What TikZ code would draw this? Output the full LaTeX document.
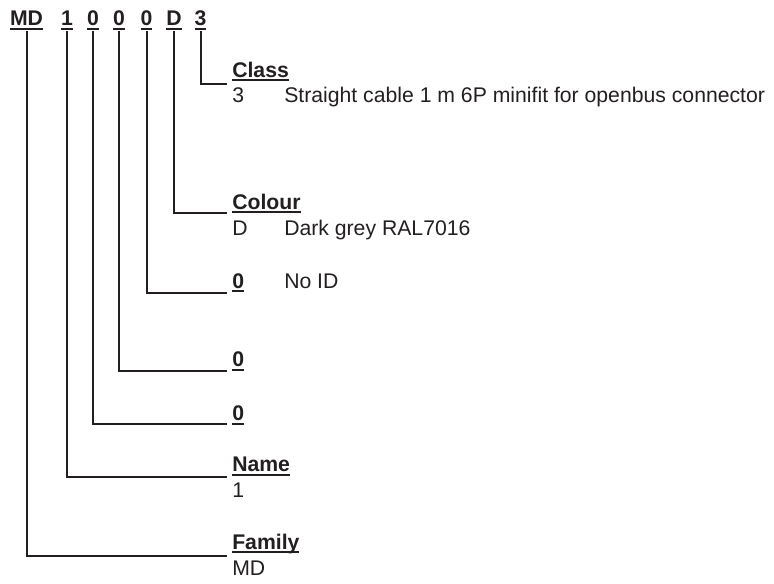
\documentclass[tikz,border=0pt]{standalone}
\usepackage{fontspec}
\setmainfont{Liberation Sans}

\definecolor{ink}{HTML}{231F20}
\newcommand{\fsz}{\fontsize{15.9}{19}\selectfont}
% bold text with a fixed underline
\newcommand{\ulb}[1]{\setbox0\hbox{#1}\rlap{\rule[-3.1pt]{\wd0}{1.7pt}}\box0}

\tikzset{
    code/.style={font=\fsz\bfseries, text=ink, anchor=base, inner sep=1pt},
    title/.style={font=\fsz\bfseries, text=ink, anchor=base west, inner sep=0pt},
    desc/.style={font=\fsz, text=ink, anchor=base west, inner sep=0pt},
    leader/.style={draw=ink, line width=1.5pt}
}

\begin{document}
\begin{tikzpicture}[x=0.75pt,y=-0.75pt]
    \useasboundingbox (0,0) rectangle (774,583);

    % Order code
    \node[code] (cMD)    at (26.5,25.7) {\ulb{MD}};
    \node[code] (cOne)   at (67,25.7)   {\ulb{1}};
    \node[code] (cZa)    at (93,25.7)   {\ulb{0}};
    \node[code] (cZb)    at (119,25.7)  {\ulb{0}};
    \node[code] (cZc)    at (146.5,25.7){\ulb{0}};
    \node[code] (cD)     at (174,25.7)  {\ulb{D}};
    \node[code] (cThree) at (200.5,25.7){\ulb{3}};

    % Line ends
    \coordinate (eClass)  at (227,84);
    \coordinate (eColour) at (227,213.3);
    \coordinate (eId)     at (227,293.3);
    \coordinate (eZb)     at (227,371);
    \coordinate (eZa)     at (227,424.3);
    \coordinate (eName)   at (227,476.7);
    \coordinate (eFamily) at (227,555.7);

    % Class
    \node[title] (tClass) at (232,77.3) {\ulb{Class}};
    \node[desc] (vClass) at (232,102.5) {3};
    \node[desc] (dClass) at (284,102.5) {Straight cable 1 m 6P minifit for openbus connector};

    % Colour
    \node[title] (tColour) at (232,209.3) {\ulb{Colour}};
    \node[desc] (vColour) at (232,235.5) {D};
    \node[desc] (dColour) at (284,235.5) {Dark grey RAL7016};

    % ID
    \node[title] (tId) at (232,288.3) {\ulb{0}};
    \node[desc] (dId) at (284,288.3) {No ID};

    % Zeros
    \node[title] (tZb) at (232,366.7) {\ulb{0}};
    \node[title] (tZa) at (232,420.7) {\ulb{0}};

    % Name
    \node[title] (tName) at (232,471.7) {\ulb{Name}};
    \node[desc] (vName) at (232,497.5) {1};

    % Family
    \node[title] (tFamily) at (232,549.3) {\ulb{Family}};
    \node[desc] (vFamily) at (232,575.5) {MD};

    % Leaders
    \draw[leader] (cThree.south) |- (eClass);
    \draw[leader] (cD.south) |- (eColour);
    \draw[leader] (cZc.south) |- (eId);
    \draw[leader] (cZb.south) |- (eZb);
    \draw[leader] (cZa.south) |- (eZa);
    \draw[leader] (cOne.south) |- (eName);
    \draw[leader] (cMD.south) |- (eFamily);
\end{tikzpicture}
\end{document}
